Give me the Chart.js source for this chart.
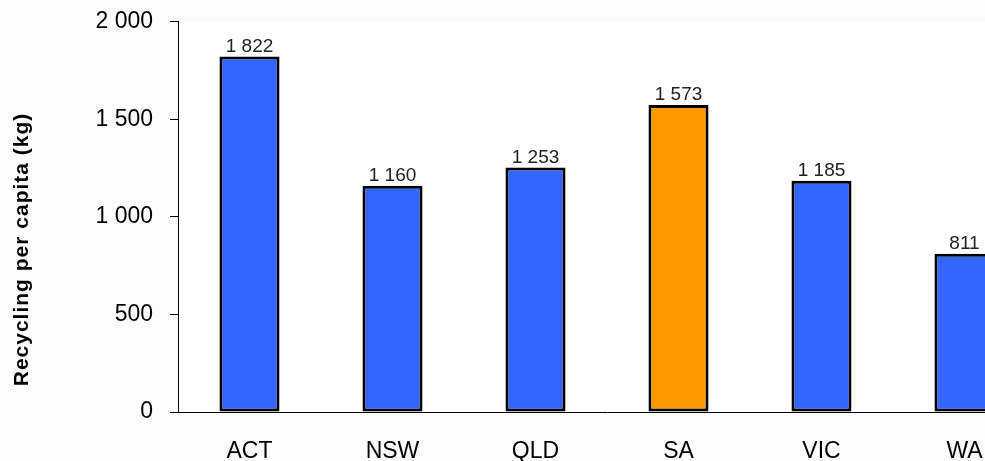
<!DOCTYPE html>
<html lang="en">
<head>
  <meta charset="UTF-8" />
  <title>Recycling per capita</title>
  <script src="https://cdn.jsdelivr.net/npm/chart.js"></script>
  <style>
    html, body {
      margin: 0;
      padding: 0;
      overflow: hidden;
      background: #fcfcfc;
    }
    #wrap {
      width: 1036px;
      height: 461px;
      overflow: hidden;
    }
    #grafico {
      margin-top: -9px;
    }
  </style>
</head>
<body>
  <div id="wrap"><canvas id="grafico" width="1036" height="470"></canvas></div>

  <script>
    const states = ["ACT", "NSW", "QLD", "SA", "VIC", "WA"];
    const recycling = [1822, 1160, 1253, 1573, 1185, 811];
    const barColours = ["#3366ff", "#3366ff", "#3366ff", "#ff9900", "#3366ff", "#3366ff"];
    const yTicks = [0, 500, 1000, 1500, 2000];
    const yTitle = "Recycling per capita (kg)";

    function fmt(v) {
      return String(v).replace(/\B(?=(\d{3})+(?!\d))/g, " ");
    }

    const FONT = "Arial, 'Liberation Sans', sans-serif";

    // values above the bars
    const barLabels = {
      id: "barLabels",
      afterDatasetsDraw(chart) {
        const ctx = chart.ctx;
        const meta = chart.getDatasetMeta(0);
        ctx.save();
        ctx.font = "19px " + FONT;
        ctx.fillStyle = "#222";
        ctx.textAlign = "center";
        ctx.textBaseline = "alphabetic";
        meta.data.forEach((bar, i) => {
          ctx.fillText(fmt(recycling[i]), bar.x, bar.y - 5);
        });
        ctx.restore();
      }
    };

    // white plot area + rotated axis title (excel style, a bit wider spaced)
    const plotBg = {
      id: "plotBg",
      beforeDraw(chart) {
        const a = chart.chartArea;
        const ctx = chart.ctx;
        ctx.save();
        ctx.fillStyle = "#ffffff";
        ctx.fillRect(a.left, a.top, a.right - a.left, a.bottom - a.top);
        ctx.restore();
      },
      afterDraw(chart) {
        const ctx = chart.ctx;
        ctx.save();
        ctx.translate(28, 258.5);
        ctx.rotate(-Math.PI / 2);
        ctx.font = "bold 21px " + FONT;
        ctx.letterSpacing = "1px";
        ctx.fillStyle = "#000";
        ctx.textAlign = "center";
        ctx.textBaseline = "alphabetic";
        ctx.fillText(yTitle, 0, 0);
        ctx.restore();
      }
    };

    new Chart(document.getElementById("grafico").getContext("2d"), {
      type: "bar",
      data: {
        labels: states,
        datasets: [{
          data: recycling,
          backgroundColor: barColours,
          borderColor: "#000",
          borderWidth: 3,
          borderSkipped: false,
          categoryPercentage: 1,
          barPercentage: 0.42
        }]
      },
      options: {
        responsive: false,
        animation: false,
        layout: { padding: { top: 7, right: 0, left: 0, bottom: 0 } },
        plugins: {
          legend: { display: false },
          tooltip: { enabled: false }
        },
        scales: {
          x: {
            grid: { display: false },
            border: { display: true, color: "#000", width: 1 },
            ticks: { color: "#000", font: { size: 23, family: FONT }, padding: 18, maxRotation: 0 },
            afterFit: s => { s.height = 49; }
          },
          y: {
            min: 0,
            max: 2000,
            afterBuildTicks: s => { s.ticks = yTicks.map(v => ({ value: v })); },
            grid: { drawOnChartArea: false, drawTicks: true, tickLength: 8, color: "#000" },
            border: { display: true, color: "#000", width: 1 },
            ticks: {
              color: "#000",
              font: { size: 23, family: FONT },
              padding: 17,
              callback: v => fmt(v)
            },
            afterFit: s => { s.width = 178; }
          }
        }
      },
      plugins: [plotBg, barLabels]
    });
  </script>
</body>
</html>
